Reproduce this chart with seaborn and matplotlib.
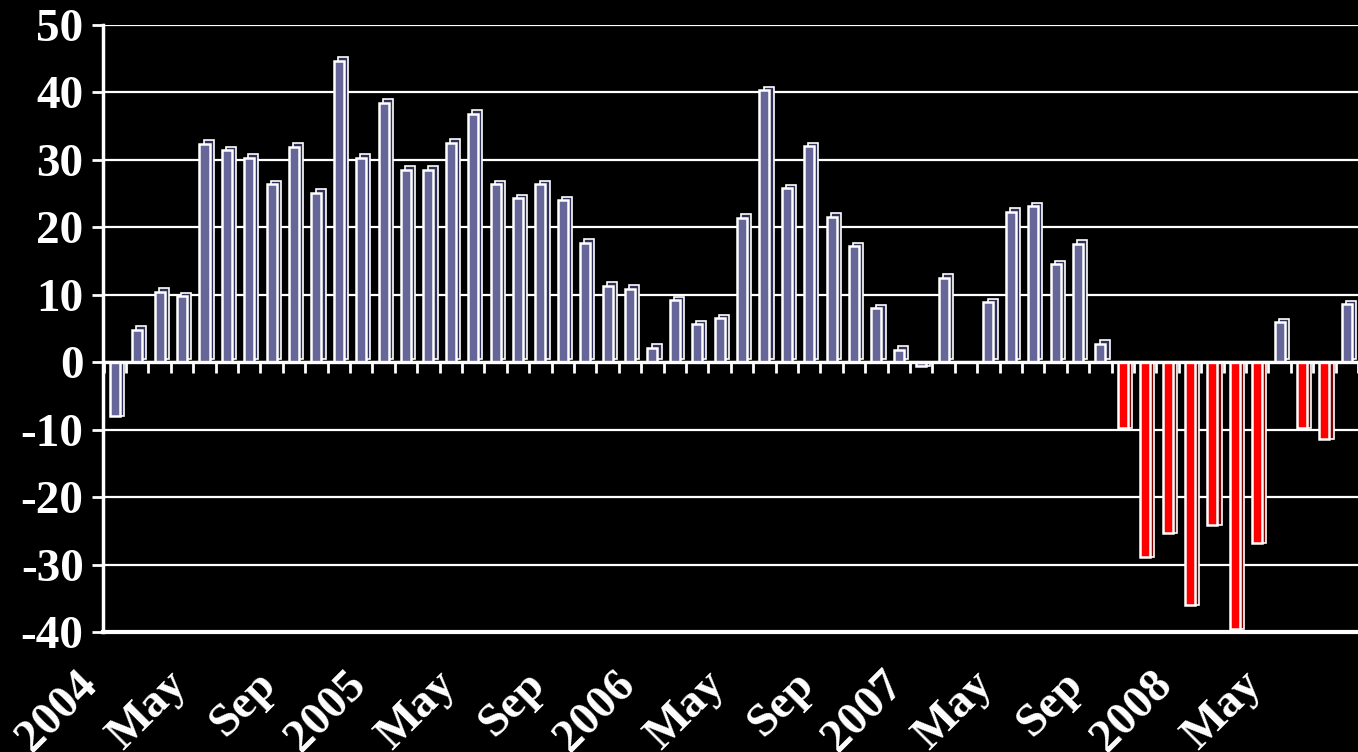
import numpy as np
import pandas as pd
import matplotlib
matplotlib.use('Agg')
import matplotlib.pyplot as plt
import matplotlib.patheffects as pe
from matplotlib.transforms import ScaledTranslation
import seaborn as sns

# monthly values, Jan 2004 .. Aug 2008
values = [
    -8.0, 4.8, 10.4, 9.8, 32.4, 31.4, 30.3, 26.4, 31.9, 25.1, 44.7, 30.3,   # 2004
    38.5, 28.5, 28.5, 32.5, 36.8, 26.4, 24.3, 26.4, 24.0, 17.7, 11.3, 10.9,  # 2005
    2.1, 9.2, 5.6, 6.5, 21.4, 40.3, 25.8, 32.0, 21.6, 17.2, 8.0, 1.8,        # 2006
    -0.5, 12.5, 0.0, 8.9, 22.3, 23.1, 14.5, 17.6, 2.7, -9.7, -28.9, -25.3,   # 2007
    -36.0, -24.1, -39.5, -26.8, 5.9, -9.7, -11.4, 8.6,                       # 2008
]
month_names = ['Jan', 'Feb', 'Mar', 'Apr', 'May', 'Jun',
               'Jul', 'Aug', 'Sep', 'Oct', 'Nov', 'Dec']
years = [2004, 2005, 2006, 2007, 2008]
labels = [str(y) if m == 'Jan' else m for y in years for m in month_names][:len(values)]
yticks = [-40, -30, -20, -10, 0, 10, 20, 30, 40, 50]
crisis_start = 45  # Oct 2007: negative months from here on are shown in red

df = pd.DataFrame({'month': np.arange(len(values)), 'value': values})
df['group'] = np.where((df['month'] >= crisis_start) & (df['value'] < 0), 'down', 'normal')

face = {'normal': '#666699', 'down': '#ff0000'}
side = {'normal': '#303058', 'down': '#800000'}

sns.set_style('dark')
plt.rcParams['font.family'] = ['Liberation Serif', 'DejaVu Serif']
plt.rcParams['font.weight'] = 'bold'
plt.rcParams['axes.unicode_minus'] = False

fig = plt.figure(figsize=(13.58, 7.52), dpi=100, facecolor='black')
ax = fig.add_axes([103 / 1358, 1 - 632 / 752, 1 - 103 / 1358, (632 - 25) / 752])
ax.set_facecolor('black')

sns.barplot(data=df, x='month', y='value', hue='group', palette=face,
            dodge=False, width=0.45, edgecolor='white', linewidth=1.8,
            saturation=1, legend=False, ax=ax, zorder=3)

# fake 3D depth behind every bar
for p in ax.patches:
    h = p.get_height()
    if not np.isfinite(h) or h == 0:
        continue
    fc = matplotlib.colors.to_hex(p.get_facecolor())
    dark = side['down'] if fc == face['down'] else side['normal']
    off = (3.0, 2.6) if h > 0 else (3.0, 0)
    p.set_path_effects([
        pe.PathPatchEffect(offset=off, facecolor=dark, edgecolor='white', linewidth=1.2),
        pe.Normal(),
    ])

ax.set_xlim(-0.53, 55.37)
ax.set_ylim(-40, 50)
ax.set_yticks(yticks)
ax.set_yticklabels([str(t) for t in yticks])
ax.grid(False)
for t in yticks:
    ax.axhline(t, color='white', lw=1.6, zorder=1)
ax.axhline(0, color='white', lw=2.4, zorder=4)

# x axis: ticks between months, labels every 4 months
ax.set_xticks(np.arange(0, len(values), 4))
ax.set_xticks(np.arange(len(values) + 1) - 0.5, minor=True)
ax.tick_params(axis='x', which='major', length=0, pad=26)
ax.tick_params(axis='x', which='minor', length=8, width=2, color='white', direction='out')
ax.tick_params(axis='y', length=8, width=2, color='white', labelsize=34,
               labelcolor='white', pad=6, direction='out', left=True)
ax.set_xticklabels(labels[::4], rotation=45, ha='right', va='center',
                   rotation_mode='anchor', fontsize=34, color='white')
shift = ScaledTranslation(-0.24, -0.10, fig.dpi_scale_trans)
for lab in ax.get_xticklabels():
    lab.set_transform(lab.get_transform() + shift)

# second row of tick marks under the zero line
sec = ax.secondary_xaxis(40 / 90)
sec.set_xticks(np.arange(len(values) + 1) - 0.5)
sec.tick_params(axis='x', length=8, width=2, color='white', direction='out',
                labelbottom=False, labeltop=False, bottom=True, top=False)
sec.spines['bottom'].set_visible(False)
sec.spines['top'].set_visible(False)

for s in ['top', 'right']:
    ax.spines[s].set_visible(False)
ax.spines['left'].set_color('white')
ax.spines['left'].set_linewidth(2.5)
ax.spines['bottom'].set_color('white')
ax.spines['bottom'].set_linewidth(3)
ax.set_xlabel('')
ax.set_ylabel('')

fig.savefig('out.png', dpi=100, facecolor='black')
